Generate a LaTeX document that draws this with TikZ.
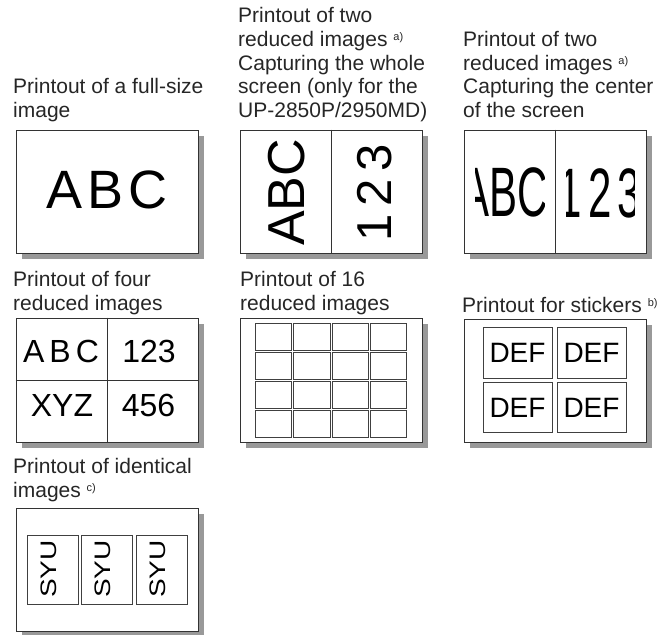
\documentclass[tikz,border=0pt]{standalone}
\usepackage{fontspec}
\setmainfont{Liberation Sans}
\usetikzlibrary{shadows}
\newcommand{\supnote}[1]{{\fontsize{11}{11}\selectfont\raisebox{6pt}{#1}}}

\begin{document}
\begin{tikzpicture}[
    x=1pt, y=-1pt,
    sheet/.style={draw=black!80, line width=0.9pt, fill=white, minimum width=182pt, minimum height=123pt, inner sep=0pt, drop shadow={shadow xshift=6pt, shadow yshift=-6pt, fill=black!40, opacity=1}},
    lbl/.style={anchor=base west, align=left, inner sep=0pt, text=black!85, font=\fontsize{21}{23.5}\selectfont},
    cell/.style={draw=black!75, line width=0.6pt, inner sep=0pt},
    sep/.style={draw=black!80, line width=0.7pt},
    txt/.style={inner sep=0pt, font=\fontsize{#1}{#1}\selectfont}
]
\useasboundingbox (0,0) rectangle (658,634);

\node[lbl] (fullT) at (13,117) {Printout of a full-size\\image};
\node[sheet] (full) at (107,191.5) {};
\node[txt=54] (fullA) at (107,189.5) {A\kern5pt B\kern5pt C};

\node[lbl] (wholeT) at (238,117) {Printout of two\\reduced images \supnote{a)}\\Capturing the whole\\screen (only for the\\UP-2850P/2950MD)};
\node[sheet] (whole) at (331,191.5) {};
\draw[sep] (whole.north) -- (whole.south);
\node[txt=52, rotate=90] (wholeA) at (287,192.5) {ABC};
\node[txt=49, rotate=90] (whole1) at (375,193) {1\kern8pt2\kern8pt3};

\node[lbl] (midT) at (463,117) {Printout of two\\reduced images \supnote{a)}\\Capturing the center\\of the screen};
\node[sheet] (mid) at (555,191.5) {};
\draw[sep] (mid.north) -- (mid.south);
\begin{scope}
    \clip (475,130) rectangle (544,253);
    \node[txt=70] (midA) at (505,192) {\scalebox{0.6}[1]{ABC}};
\end{scope}
\begin{scope}
    \clip (566,130) rectangle (634,253);
    \node[txt=70] (mid1) at (600,193) {\scalebox{0.6}[1]{1\kern10pt2\kern10pt3}};
\end{scope}

\node[lbl] (fourT) at (13,310) {Printout of four\\reduced images};
\node[sheet, minimum height=124pt] (four) at (107,380) {};
\draw[sep] (four.north) -- (four.south);
\draw[sep] (four.west) -- (four.east);
\node[txt=32] (fourA) at (61,351) {A\kern5pt B\kern5pt C};
\node[txt=32] (fourB) at (149,351) {123};
\node[txt=32] (fourC) at (62,405) {XYZ};
\node[txt=32] (fourD) at (148.5,405) {456};

\node[lbl] (sixteenT) at (240,310) {Printout of 16\\reduced images};
\node[sheet, minimum height=124pt] (sixteen) at (331,380) {};
\foreach \i in {0,...,3}
    \foreach \j in {0,...,3}
        \node[cell, minimum width=36.5pt, minimum height=27pt] (g\i\j) at (273.5+38.3*\i,336.5+29*\j) {};

\node[lbl] (stickT) at (462,312) {Printout for stickers \supnote{b)}};
\node[sheet] (stick) at (555,380.5) {};
\foreach \x/\y [count=\k] in {517.5/353, 591.5/353, 517.5/407.5, 591.5/407.5}
    \node[cell, minimum width=69pt, minimum height=50.5pt, txt=28] (def\k) at (\x,\y) {DEF};

\node[lbl] (identT) at (13,497) {Printout of identical\\images \supnote{c)}};
\node[sheet] (ident) at (107,569.5) {};
\foreach \x [count=\k] in {52.5, 107, 162} {
    \node[cell, minimum width=51pt, minimum height=69pt] (syu\k) at (\x,569.5) {};
    \node[txt=28, rotate=90] (syuT\k) at (\x-4,569) {\scalebox{1}[0.8]{SYU}};
}
\end{tikzpicture}
\end{document}
